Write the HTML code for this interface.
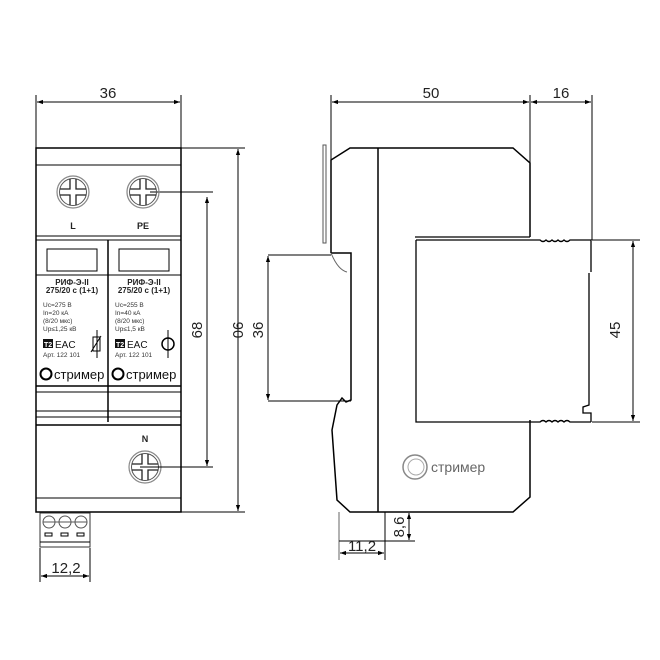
<!DOCTYPE html>
<html><head><meta charset="utf-8"><style>
html,body{margin:0;padding:0;background:#fff;}
svg{display:block;font-family:"Liberation Sans","DejaVu Sans",sans-serif;}
</style></head><body>
<svg width="660" height="660" viewBox="0 0 660 660" xmlns="http://www.w3.org/2000/svg">
<defs>
<marker id="a" viewBox="0 0 10 10" refX="10" refY="5" markerWidth="9" markerHeight="6" orient="auto-start-reverse" markerUnits="userSpaceOnUse"><path d="M0,1.5 L10,5 L0,8.5 z" fill="#000"/></marker>
<g id="scr"><circle r="16" fill="none" stroke="#888" stroke-width="1.2"/><circle r="13.5" fill="none" stroke="#555" stroke-width="1"/>
<path d="M-3,-13 V-3 H-13 M3,-13 V-3 H13 M-3,13 V3 H-13 M3,13 V3 H13" fill="none" stroke="#222" stroke-width="1.3"/></g>
</defs>
<g stroke="#000" fill="none" stroke-width="1">
<line x1="36" y1="95" x2="36" y2="148"/><line x1="181" y1="95" x2="181" y2="148"/>
<line x1="37" y1="102" x2="180" y2="102" marker-start="url(#a)" marker-end="url(#a)"/>
<line x1="181" y1="148" x2="245" y2="148"/><line x1="181" y1="512" x2="245" y2="512"/>
<line x1="238" y1="149" x2="238" y2="511" marker-start="url(#a)" marker-end="url(#a)"/>
<line x1="150" y1="192" x2="213" y2="192"/><line x1="150" y1="467" x2="213" y2="467"/>
<line x1="207" y1="197" x2="207" y2="466" marker-start="url(#a)" marker-end="url(#a)"/>
<line x1="40" y1="548" x2="40" y2="582"/><line x1="90" y1="548" x2="90" y2="582"/>
<line x1="41" y1="576" x2="89" y2="576" marker-start="url(#a)" marker-end="url(#a)"/>
<rect x="36" y="148" width="145" height="364" stroke-width="1.5"/>
<line x1="36" y1="165" x2="181" y2="165"/>
<line x1="36" y1="236" x2="181" y2="236"/><line x1="36" y1="240" x2="181" y2="240"/>
<line x1="108" y1="240" x2="108" y2="422" stroke-width="1.5"/>
<line x1="36" y1="275" x2="181" y2="275"/>
<rect x="47" y="249" width="50" height="22"/><rect x="119" y="249" width="50" height="22"/>
<line x1="36" y1="386" x2="181" y2="386" stroke-width="1.5"/><line x1="36" y1="392" x2="181" y2="392"/>
<line x1="36" y1="411" x2="181" y2="411"/><line x1="36" y1="417" x2="181" y2="417"/>
<line x1="36" y1="425" x2="181" y2="425" stroke-width="1.5"/>
<line x1="36" y1="498" x2="181" y2="498"/>
<rect x="40" y="513" width="50" height="34" stroke="#333"/>
<line x1="40" y1="542" x2="90" y2="542"/>
<circle cx="49" cy="522" r="6" stroke="#555"/><circle cx="65" cy="522" r="6" stroke="#555"/><circle cx="81" cy="522" r="6" stroke="#555"/>
<line x1="43" y1="522" x2="87" y2="522" stroke="#555"/>
<rect x="45" y="533" width="7" height="3"/><rect x="61" y="533" width="7" height="3"/><rect x="77" y="533" width="7" height="3"/>
<line x1="97" y1="330" x2="97" y2="358"/><rect x="93" y="337" width="7" height="14"/><line x1="91" y1="352" x2="101" y2="336"/>
<line x1="168" y1="330" x2="168" y2="358"/><circle cx="168" cy="344" r="6" stroke-width="1.5"/>
<circle cx="46" cy="374" r="5.5" stroke-width="2"/><circle cx="118" cy="374" r="5.5" stroke-width="2"/>
</g>
<use href="#scr" x="73" y="192"/><use href="#scr" x="143" y="192"/><use href="#scr" x="145" y="467"/>
<line x1="140" y1="467" x2="165" y2="467" stroke="#000"/>
<g font-size="15" text-anchor="middle" fill="#222">
<text x="108" y="98">36</text><text x="66" y="573">12,2</text>
<text transform="translate(202,330) rotate(-90)">68</text>
<text transform="translate(233,330) rotate(90)">90</text>
</g>
<g font-size="9" font-weight="bold" text-anchor="middle" fill="#222">
<text x="73" y="229">L</text><text x="143" y="229">PE</text><text x="145" y="442">N</text>
<text x="72" y="285" font-size="8">РИФ-Э-II</text><text x="72" y="293" font-size="8">275/20 с (1+1)</text>
<text x="144" y="285" font-size="8">РИФ-Э-II</text><text x="144" y="293" font-size="8">275/20 с (1+1)</text>
</g>
<g font-size="6.5" fill="#333">
<text x="43" y="307">Uc=275 В</text><text x="43" y="315">In=20 кА</text><text x="43" y="323">(8/20 мкс)</text><text x="43" y="331">Up≤1,25 кВ</text>
<text x="43" y="357">Арт. 122 101</text>
<text x="115" y="307">Uc=255 В</text><text x="115" y="315">In=40 кА</text><text x="115" y="323">(8/20 мкс)</text><text x="115" y="331">Up≤1,5 кВ</text>
<text x="115" y="357">Арт. 122 101</text>
</g>
<rect x="43" y="339" width="10" height="9" fill="#111"/><text x="44" y="347" font-size="7" fill="#fff" font-weight="bold">T2</text>
<text x="55" y="348" font-size="10" fill="#111">EAC</text>
<rect x="115" y="339" width="10" height="9" fill="#111"/><text x="116" y="347" font-size="7" fill="#fff" font-weight="bold">T2</text>
<text x="127" y="348" font-size="10" fill="#111">EAC</text>
<text x="54" y="379" font-size="13" fill="#111">стример</text>
<text x="126" y="379" font-size="13" fill="#111">стример</text>
<g stroke="#000" fill="none" stroke-width="1">
<line x1="331" y1="95" x2="331" y2="160"/><line x1="530" y1="95" x2="530" y2="163"/><line x1="592" y1="95" x2="592" y2="240"/>
<line x1="332" y1="102" x2="529" y2="102" marker-start="url(#a)" marker-end="url(#a)"/>
<line x1="531" y1="102" x2="591" y2="102" marker-start="url(#a)" marker-end="url(#a)"/>
<path d="M331,253 V160 L350,148 H513 L530,163 V237" stroke-width="1.5"/>
<path d="M530,420 V497 L513,512 H350 L337,500 L332,430 L337,405 L342,398 L346,402 L351,400 V253 H331" stroke-width="1.5"/>
<path d="M331,253 Q338,270 347,272" stroke="#666"/>
<rect x="323" y="145" width="3" height="98" stroke="#555"/>
<line x1="378" y1="148" x2="378" y2="512" stroke-width="1.5"/>
<path d="M415,237 H530 M530,240 H540 q3,3 6,0 q3,3 6,0 q3,3 6,0 q3,3 6,0 q3,3 6,0 H591 V272 M589,273 V405 L583,407 V413 L591,413 V422 M530,422 H540 q3,-3 6,0 q3,-3 6,0 q3,-3 6,0 q3,-3 6,0 q3,-3 6,0 H591" stroke-width="1.3"/>
<path d="M416,240 H530 M416,240 V422 H530" stroke-width="1.3"/>
<line x1="592" y1="240" x2="640" y2="240"/><line x1="592" y1="422" x2="640" y2="422"/>
<line x1="633" y1="241" x2="633" y2="421" marker-start="url(#a)" marker-end="url(#a)"/>
<line x1="268" y1="255" x2="331" y2="255"/><line x1="268" y1="401" x2="351" y2="401"/>
<line x1="268" y1="256" x2="268" y2="400" marker-start="url(#a)" marker-end="url(#a)"/>
<line x1="339" y1="512" x2="339" y2="560" stroke="#666"/><line x1="385" y1="512" x2="385" y2="560"/>
<line x1="378" y1="512" x2="415" y2="512"/><line x1="339" y1="541" x2="415" y2="541"/>
<line x1="409" y1="513" x2="409" y2="540" marker-start="url(#a)" marker-end="url(#a)"/>
<line x1="340" y1="553" x2="384" y2="553" marker-start="url(#a)" marker-end="url(#a)"/>
<circle cx="415" cy="467" r="12" stroke="#888" stroke-width="1.5"/><circle cx="416" cy="467" r="8" stroke="#aaa"/>
</g>
<g font-size="15" text-anchor="middle" fill="#222">
<text x="431" y="98">50</text><text x="561" y="98">16</text>
<text transform="translate(263,330) rotate(-90)">36</text>
<text transform="translate(620,330) rotate(-90)">45</text>
<text transform="translate(404,527) rotate(-90)">8,6</text>
<text x="362" y="551">11,2</text>
</g>
<text x="431" y="472" font-size="14" fill="#666">стример</text>
</svg>
</body></html>
